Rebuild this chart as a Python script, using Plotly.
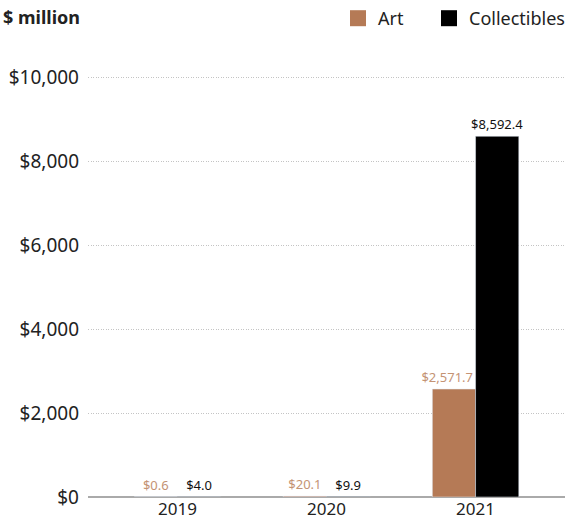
import plotly.graph_objects as go

years = ["2019", "2020", "2021"]
art = [0.6, 20.1, 2571.7]
collectibles = [4.0, 9.9, 8592.4]
tick_vals = [0, 2000, 4000, 6000, 8000, 10000]
tick_text = ["$0", "$2,000", "$4,000", "$6,000", "$8,000", "$10,000"]

def fmt(v):
    return "${:,.1f}".format(v)

ART_COLOR = "#b57a56"
ART_LABEL = "#c49374"
COL_COLOR = "#000000"

# wide labels on the left bar are nudged left so they don't run under the neighbour bar
art_labels = [fmt(v) + ("\u00a0" * 4 if v >= 1000 else "") for v in art]

fig = go.Figure()
fig.add_trace(go.Bar(
    x=years, y=art, name="Art", marker_color=ART_COLOR, showlegend=False,
    text=art_labels, textposition="outside", cliponaxis=False,
    constraintext="none",
    textfont=dict(color=ART_LABEL, size=13, family="Noto Sans"),
))
fig.add_trace(go.Bar(
    x=years, y=collectibles, name="Collectibles", marker_color=COL_COLOR, showlegend=False,
    text=[fmt(v) for v in collectibles], textposition="outside", cliponaxis=False,
    constraintext="none",
    textfont=dict(color="#111111", size=13, family="Noto Sans"),
))
# legend entries with large square swatches
fig.add_trace(go.Scatter(x=[None], y=[None], mode="markers", name="Art", legend="legend",
                         marker=dict(symbol="square", size=21, color=ART_COLOR)))
fig.add_trace(go.Scatter(x=[None], y=[None], mode="markers", name="Collectibles", legend="legend2",
                         marker=dict(symbol="square", size=21, color=COL_COLOR)))

leg_common = dict(orientation="h", y=1.0, yanchor="top", yref="container", xref="container",
                  xanchor="left", font=dict(size=18, color="#222222"), itemwidth=30,
                  bgcolor="rgba(0,0,0,0)")

fig.update_layout(
    width=569, height=530,
    margin=dict(l=88, r=4, t=73, b=33),
    paper_bgcolor="white", plot_bgcolor="white",
    barmode="group", bargap=0.42, bargroupgap=0,
    font=dict(family="Noto Sans", color="#333333"),
    showlegend=True,
    legend=dict(x=338 / 569, **leg_common),
    legend2=dict(x=429 / 569, **leg_common),
    xaxis=dict(range=[-0.6, 2.6], showgrid=False, showline=False, ticks="",
               tickfont=dict(size=17, color="#222222")),
    yaxis=dict(range=[0, 10100], tickvals=tick_vals, ticktext=tick_text,
               showgrid=True, gridcolor="#c4c4c4", griddash="1px,1.5px", gridwidth=1,
               zeroline=True, zerolinecolor="#aaaaaa", zerolinewidth=2,
               tickfont=dict(size=19, color="#222222"), ticks="", ticklabelstandoff=8),
    annotations=[dict(text="<b>$ million</b>", x=-0.182, y=(497 - 17) / 424 * 1.0, xref="paper", yref="paper",
                      xanchor="left", yanchor="middle", showarrow=False,
                      font=dict(size=18, color="#222222"))],
)
fig.write_html("out.html")
